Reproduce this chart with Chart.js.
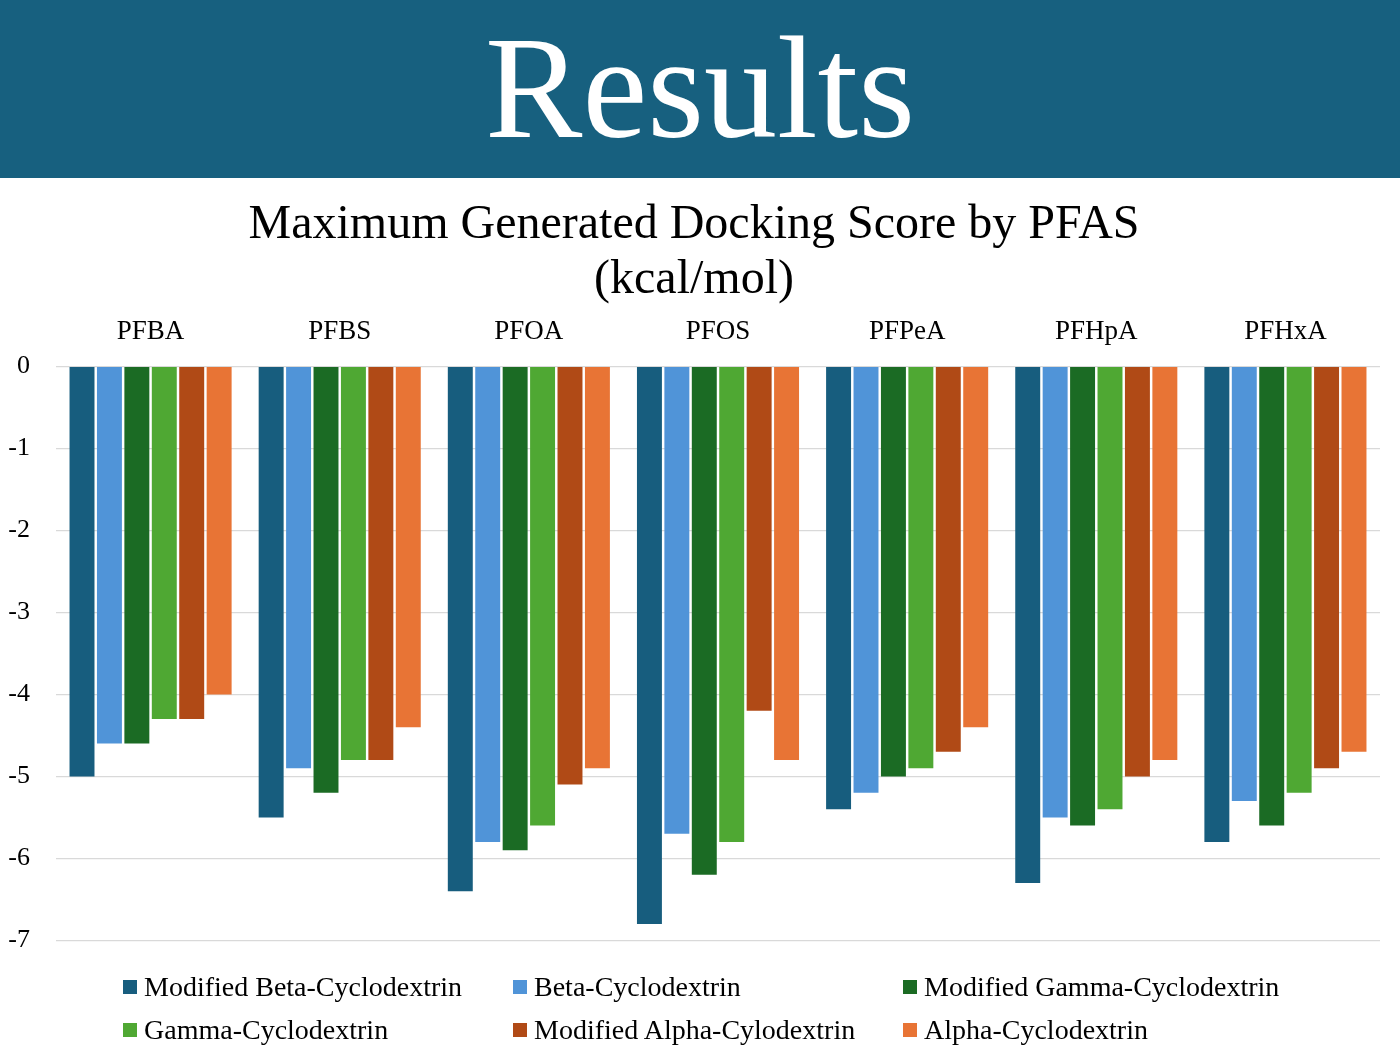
<!DOCTYPE html>
<html>
<head>
<meta charset="utf-8">
<script src="https://cdn.jsdelivr.net/npm/chart.js@4.4.0/dist/chart.umd.min.js"></script>
<style>
    html, body { margin: 0; padding: 0; background: #fff; }
    body { width: 1400px; height: 1055px; position: relative; overflow: hidden; font-family: "Liberation Serif", "DejaVu Serif", serif; }
    #header { position: absolute; left: 0; top: 0; width: 1400px; height: 178px; background: #17607F; color: #fff; text-align: center; font-size: 146px; line-height: 178px; }
    #header span { position: relative; top: -1px; }
    #chart-wrap { position: absolute; left: 0; top: 178px; width: 1400px; height: 804px; }
    #legend { position: absolute; left: 123px; top: 971px; width: 1200px; display: grid; grid-template-columns: 390px 390px 390px; row-gap: 11px; font-size: 28px; color: #000; }
    .lg-item { display: flex; align-items: center; height: 32px; white-space: nowrap; }
    .lg-box { width: 14px; height: 14px; margin-right: 7px; flex: none; }
</style>
</head>
<body>
<div id="header"><span>Results</span></div>
<div id="chart-wrap"><canvas id="chartDocking"></canvas></div>
<div id="legend"></div>

<script>
const categories = ['PFBA', 'PFBS', 'PFOA', 'PFOS', 'PFPeA', 'PFHpA', 'PFHxA'];
const seriesNames = [
    'Modified Beta-Cyclodextrin',
    'Beta-Cyclodextrin',
    'Modified Gamma-Cyclodextrin',
    'Gamma-Cyclodextrin',
    'Modified Alpha-Cylodextrin',
    'Alpha-Cyclodextrin'
];
const modBeta  = [-5.0, -5.5, -6.4, -6.8, -5.4, -6.3, -5.8];
const beta     = [-4.6, -4.9, -5.8, -5.7, -5.2, -5.5, -5.3];
const modGamma = [-4.6, -5.2, -5.9, -6.2, -5.0, -5.6, -5.6];
const gamma    = [-4.3, -4.8, -5.6, -5.8, -4.9, -5.4, -5.2];
const modAlpha = [-4.3, -4.8, -5.1, -4.2, -4.7, -5.0, -4.9];
const alpha    = [-4.0, -4.4, -4.9, -4.8, -4.4, -4.8, -4.7];
const yTicks = [0, -1, -2, -3, -4, -5, -6, -7];

const seriesValues = [modBeta, beta, modGamma, gamma, modAlpha, alpha];
const seriesColors = ['#175D7E', '#5094D8', '#1B6B24', '#4FA833', '#B04A16', '#E87435'];
const FONT = '"Liberation Serif", "DejaVu Serif", serif';

let dockingChart = null;

document.addEventListener('DOMContentLoaded', () => {
    const ctx = document.getElementById('chartDocking').getContext('2d');
    dockingChart = new Chart(ctx, {
        type: 'bar',
        data: {
            labels: categories,
            datasets: seriesNames.map((name, i) => ({
                label: name,
                data: seriesValues[i],
                backgroundColor: seriesColors[i],
                categoryPercentage: 0.87,
                barPercentage: 0.91
            }))
        },
        options: {
            responsive: true,
            maintainAspectRatio: false,
            animation: false,
            layout: { padding: { left: 8, right: 20, bottom: 20, top: 0 } },
            plugins: {
                legend: { display: false },
                tooltip: { enabled: false },
                title: {
                    display: true,
                    text: ['Maximum Generated Docking Score by PFAS', '(kcal/mol)'],
                    color: '#000',
                    font: { family: FONT, size: 48, weight: 'normal', lineHeight: 1.15 },
                    padding: { top: 20, bottom: 7 }
                }
            },
            scales: {
                x: {
                    position: 'top',
                    grid: { display: false, drawTicks: false },
                    border: { display: false },
                    ticks: { color: '#000', font: { family: FONT, size: 27 }, padding: 18 },
                    afterFit: (axis) => { axis.height = 51; }
                },
                y: {
                    min: -7,
                    max: 0,
                    afterBuildTicks: (axis) => { axis.ticks = yTicks.map(v => ({ value: v })); },
                    grid: { color: '#D9D9D9', lineWidth: 1.3, drawTicks: false },
                    border: { display: false },
                    ticks: { color: '#000', font: { family: FONT, size: 26 }, padding: 26 },
                    afterFit: (axis) => { axis.width = 48; }
                }
            }
        }
    });

    renderLegend(dockingChart);
});

function renderLegend(chart) {
    const el = document.getElementById('legend');
    el.innerHTML = chart.data.datasets.map(ds => `
        <div class="lg-item"><span class="lg-box" style="background:${ds.backgroundColor}"></span>${ds.label}</div>
    `).join('');
}
</script>
</body>
</html>
